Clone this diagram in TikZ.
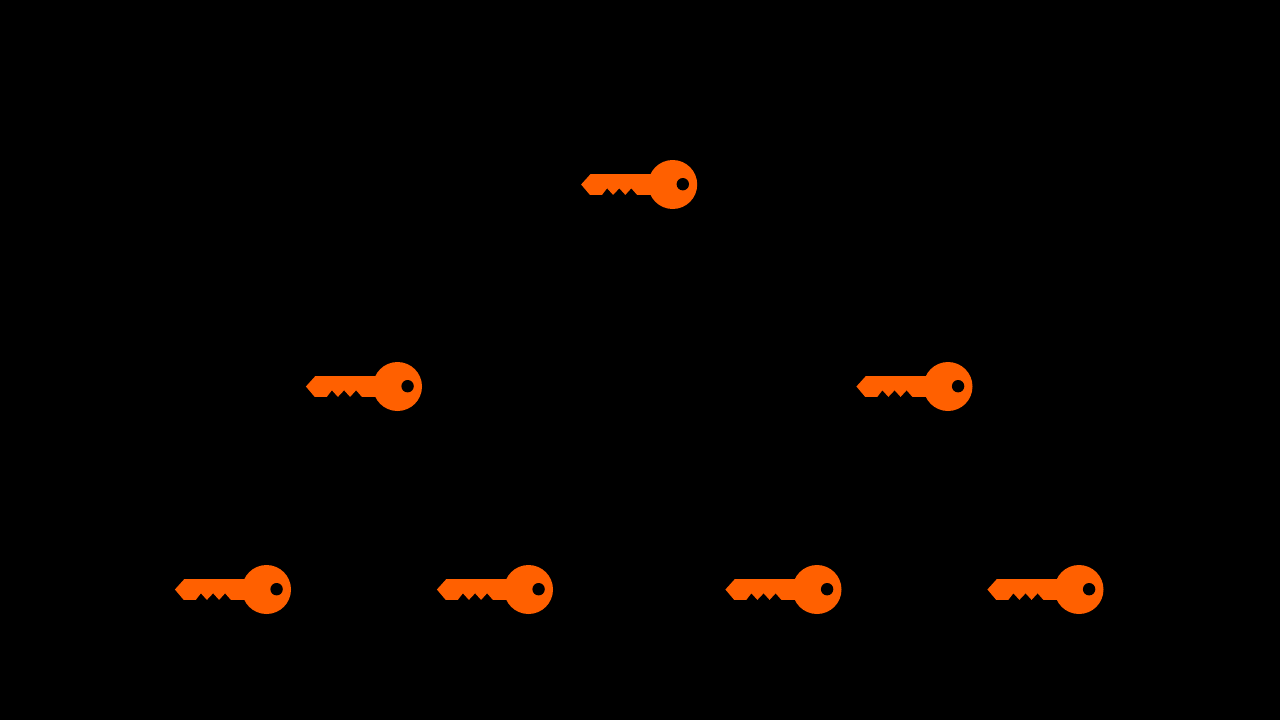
\documentclass[tikz,border=0pt]{standalone}
\definecolor{keyorange}{HTML}{FF6000}
\tikzset{
  key/.pic={
    \fill[keyorange] (-91.6,0) -- (-82.2,-10.4) -- (-20,-10.4) -- (-20,10.4)
      -- (-35.6,10.4) -- (-41.4,3.8) -- (-47.4,10.4) -- (-53.4,3.8) -- (-59.6,10.4)
      -- (-65.6,3.8) -- (-70.7,10.4) -- (-82.8,10.4) -- cycle;
    \fill[keyorange] (0,0) circle[radius=24.5pt];
    \fill[black] (10.1,-0.3) circle[radius=6.2pt];
  }
}
\begin{document}
\begin{tikzpicture}[x=1pt,y=-1pt]
\fill[black] (0,0) rectangle (1280,720);
\useasboundingbox (0,0) rectangle (1280,720);
\foreach \cx/\cy in {672.7/184.5,397.5/386.5,948/386.5,266.5/589.5,528.5/589.5,817/589.5,1079/589.5}
  \pic at (\cx,\cy) {key};
\end{tikzpicture}
\end{document}
